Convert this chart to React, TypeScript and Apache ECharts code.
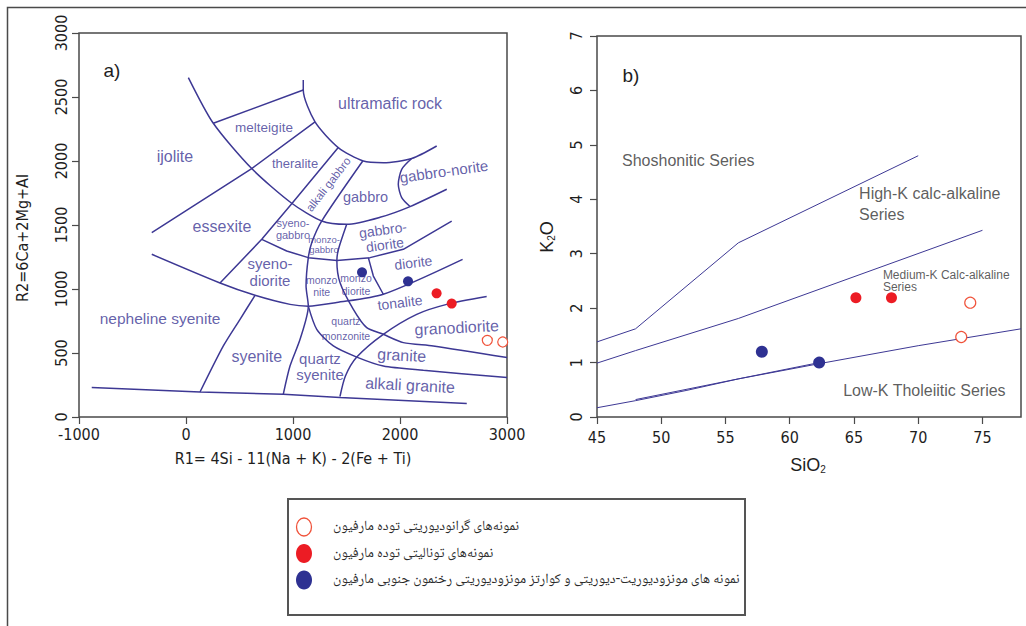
import React, { useEffect, useRef } from "react";
import * as echarts from "echarts";

// ---------- R1–R2 classification (De la Roche) ----------
// Field boundaries, as [R1, R2] vertices
const ijoliteArc = [[22, 2652], [255, 2295], [614, 1941], [988, 1670], [1268, 1531], [1502, 1505], [1813, 1560], [2094, 1644], [2437, 1779]];
const ultramaficArc = [[1096, 2633], [1096, 2555], [1206, 2305], [1423, 2105], [1657, 2000], [1844, 1987], [2109, 2019], [2343, 2117]];
const melteigiteTop = [[255, 2295], [1096, 2555]];
const theraliteBase = [[-320, 1441], [614, 1941], [1206, 2305]];
const essexiteEdge = [[318, 1047], [708, 1388], [988, 1666], [1423, 2105]];
const monzoniteEdge = [[1652, 2000], [1268, 1531], [1175, 1362], [1143, 1245], [1122, 1023], [1143, 866], [1066, 607], [972, 398], [909, 177]];
const syenodioriteBase = [[-320, 1271], [318, 1047], [645, 951], [972, 880], [1143, 866], [1408, 894], [1844, 959], [2585, 1232]];
const dioriteTop = [[708, 1388], [941, 1297], [1143, 1245], [1410, 1222], [1720, 1245], [2031, 1310], [2483, 1531]];
const monzodioriteArc = [[1502, 1505], [1425, 1310], [1410, 1222], [1439, 1050], [1564, 841], [1689, 698], [1844, 646], [2031, 581], [2311, 555], [3000, 464]];
const granodioriteBase = [[2810, 941], [2437, 880], [2156, 802], [1844, 646], [1596, 468], [1490, 320], [1439, 160]];
const alkaliGraniteTop = [[1143, 866], [1222, 685], [1377, 555], [1596, 468], [1844, 398], [2218, 365], [3000, 308]];
const baseLine = [[-881, 230], [131, 195], [909, 177], [1439, 152], [2624, 105]];
const syeniteEdge = [[645, 951], [505, 763], [349, 555], [131, 195]];
const dioriteEdge = [[1704, 1245], [1751, 1101], [1844, 959]];
const gabbroNoriteEdge = [[2109, 2019], [2016, 1935], [1984, 1818], [2016, 1714], [2094, 1644]];

const curvedBoundaries = [ijoliteArc, ultramaficArc, monzodioriteArc, gabbroNoriteEdge, syeniteEdge, syenodioriteBase, granodioriteBase, alkaliGraniteTop, monzoniteEdge];
const straightBoundaries = [melteigiteTop, theraliteBase, essexiteEdge, dioriteTop, baseLine, dioriteEdge];

const fieldNames = [
  { name: "ultramafic rock", r1: 1907, r2: 2451 },
  { name: "melteigite", r1: 729, r2: 2263 },
  { name: "ijolite", r1: -103, r2: 2037 },
  { name: "theralite", r1: 1019, r2: 1982 },
  { name: "alkali gabbro", r1: 1330, r2: 1818 },
  { name: "gabbro", r1: 1678, r2: 1716 },
  { name: "gabbro-norite", r1: 2411, r2: 1920 },
  { name: "essexite", r1: 336, r2: 1490 },
  { name: "syeno-\ngabbro", r1: 1000, r2: 1466 },
  { name: "monzo-\ngabbro", r1: 1290, r2: 1349 },
  { name: "gabbro-\ndiorite", r1: 1850, r2: 1404 },
  { name: "syeno-\ndiorite", r1: 785, r2: 1134 },
  { name: "diorite", r1: 2124, r2: 1206 },
  { name: "monzo\nnite", r1: 1268, r2: 1021 },
  { name: "monzo\ndiorite", r1: 1589, r2: 1037 },
  { name: "tonalite", r1: 2000, r2: 894 },
  { name: "nepheline syenite", r1: -243, r2: 771 },
  { name: "quartz\nmonzonite", r1: 1495, r2: 689 },
  { name: "granodiorite", r1: 2530, r2: 698 },
  { name: "syenite", r1: 661, r2: 472 },
  { name: "quartz\nsyenite", r1: 1252, r2: 396 },
  { name: "granite", r1: 2016, r2: 482 },
  { name: "alkali granite", r1: 2094, r2: 248 },
];

const granodioriteR = [[2816, 599], [2960, 586]];
const tonaliteR = [[2342, 966], [2483, 886]];
const monzodioriteR = [[1645, 1130], [2075, 1060]];

// ---------- K2O vs SiO2 ----------
const siO2Ticks = [45, 50, 55, 60, 65, 70, 75];
const shoshoniticLine = [[45, 1.38], [48, 1.62], [56, 3.2], [70, 4.8]];
const highKLine = [[45, 0.99], [48, 1.22], [56, 1.81], [75, 3.43]];
const lowKLine = [[45, 0.17], [48, 0.3], [52, 0.49], [56, 0.7], [62.3, 0.98], [70, 1.31], [78, 1.62]];
const lowKLineInner = [[48, 0.32], [62.3, 1.0]];

const seriesNames = [
  { name: "Shoshonitic Series", sio2: 46.95, k2o: 4.72 },
  { name: "High-K calc-alkaline\nSeries", sio2: 65.4, k2o: 3.92 },
  { name: "Medium-K Calc-alkaline\nSeries", sio2: 67.25, k2o: 2.5 },
  { name: "Low-K Tholeiitic Series", sio2: 64.16, k2o: 0.48 },
];

const granodioriteK = [[74.05, 2.1], [73.35, 1.47]];
const tonaliteK = [[65.15, 2.19], [67.92, 2.19]];
const monzodioriteK = [[57.83, 1.2], [62.29, 1.0]];

const legendTexts = [
  "نمونه‌های گرانودیوریتی توده مارفیون",
  "نمونه‌های تونالیتی توده مارفیون",
  "نمونه های مونزودیوریت-دیوریتی و کوارتز مونزودیوریتی رخنمون جنوبی مارفیون",
];

const BOUND = "#3d3894";
const FRAME = "#4a4a4a";
const INK = "#1e1e1e";
const RED = "#ec1c24";
const OPEN_RED = "#f0533b";
const BLUE = "#2e3192";
const SANS = "'Liberation Sans', Arial, sans-serif";
const NARROW = "'Liberation Sans Narrow', 'Arial Narrow', 'DejaVu Sans Condensed', 'Liberation Sans', sans-serif";
const PERSIAN = "'Noto Naskh Arabic', 'Noto Sans Arabic', 'DejaVu Sans', sans-serif";

const fieldStyle: Record<string, { size: number; rotate?: number; lh?: number }> = {
  "ultramafic rock": { size: 16 },
  melteigite: { size: 13.5 },
  ijolite: { size: 16 },
  theralite: { size: 13 },
  "alkali gabbro": { size: 11.5, rotate: 52 },
  gabbro: { size: 14.5 },
  "gabbro-norite": { size: 15, rotate: 8 },
  essexite: { size: 16 },
  "syeno-\ngabbro": { size: 11, lh: 12 },
  "monzo-\ngabbro": { size: 9.5, lh: 10 },
  "gabbro-\ndiorite": { size: 14, rotate: 8, lh: 15 },
  "syeno-\ndiorite": { size: 15, lh: 17 },
  diorite: { size: 14, rotate: 7 },
  "monzo\nnite": { size: 10.5, lh: 12 },
  "monzo\ndiorite": { size: 10.5, lh: 13 },
  tonalite: { size: 14, rotate: 7 },
  "nepheline syenite": { size: 15.5 },
  "quartz\nmonzonite": { size: 10.5, lh: 15 },
  granodiorite: { size: 16, rotate: 3 },
  syenite: { size: 16 },
  "quartz\nsyenite": { size: 15, lh: 16 },
  granite: { size: 16, rotate: -3 },
  "alkali granite": { size: 16, rotate: -3 },
};

function boundary(points: number[][], idx: number, smooth: number | boolean, width: number) {
  return {
    type: "line",
    xAxisIndex: idx,
    yAxisIndex: idx,
    data: points,
    symbol: "none",
    smooth,
    silent: true,
    z: 2,
    lineStyle: { color: BOUND, width },
  };
}

function samples(points: number[][], idx: number, size: number, fill: string, stroke: string) {
  return {
    type: "scatter",
    xAxisIndex: idx,
    yAxisIndex: idx,
    data: points,
    symbol: "circle",
    symbolSize: size,
    silent: true,
    z: 6,
    itemStyle: { color: fill, borderColor: stroke, borderWidth: fill === "#ffffff" ? 1.2 : 0, opacity: 1 },
  };
}

function axisCommon() {
  return {
    axisLine: { show: false, onZero: false },
    axisTick: { show: true, inside: false, length: 7, lineStyle: { color: FRAME, width: 1.2 } },
    splitLine: { show: false },
    axisLabel: { color: INK, fontSize: 16, fontFamily: NARROW, formatter: (v: number) => String(v) },
  };
}

export default function App() {
  const ref = useRef<HTMLDivElement>(null);

  useEffect(() => {
    if (!ref.current) return;
    const chart = echarts.init(ref.current, null, { renderer: "svg" });

    const fieldLabelSeries = {
      type: "scatter",
      xAxisIndex: 0,
      yAxisIndex: 0,
      symbolSize: 1,
      silent: true,
      z: 5,
      itemStyle: { color: "rgba(0,0,0,0)" },
      data: fieldNames.map((f) => {
        const st = fieldStyle[f.name];
        return {
          name: f.name,
          value: [f.r1, f.r2],
          label: {
            fontSize: st.size,
            rotate: st.rotate || 0,
            lineHeight: st.lh || st.size + 2,
          },
        };
      }),
      label: {
        show: true,
        position: "inside",
        formatter: "{b}",
        color: BOUND,
        fontFamily: SANS,
        align: "center",
        verticalAlign: "middle",
      },
    };

    const seriesLabelSeries = {
      type: "scatter",
      xAxisIndex: 1,
      yAxisIndex: 1,
      symbolSize: 1,
      silent: true,
      z: 5,
      itemStyle: { color: "rgba(0,0,0,0)" },
      data: seriesNames.map((s) => {
        const small = s.name.startsWith("Medium");
        return {
          name: s.name,
          value: [s.sio2, s.k2o],
          label: { fontSize: small ? 12 : 16, lineHeight: small ? 12 : 21 },
        };
      }),
      label: {
        show: true,
        position: "inside",
        formatter: "{b}",
        color: "#333333",
        fontFamily: SANS,
        align: "left",
        verticalAlign: "middle",
      },
    };

    const legendRows = legendTexts.map((t, i) => {
      const cy = 527 + i * 26.5;
      const marker =
        i === 0
          ? { type: "ellipse", shape: { cx: 304, cy, rx: 7.5, ry: 9 }, style: { fill: "#fff", stroke: OPEN_RED, lineWidth: 1.3 } }
          : { type: "ellipse", shape: { cx: 304, cy, rx: 8, ry: 9.5 }, style: { fill: i === 1 ? RED : BLUE } };
      return [
        marker,
        {
          type: "text",
          x: 333,
          y: cy,
          style: { text: t, fill: "#2a2a2a", fontSize: 14, fontFamily: PERSIAN, align: "left", verticalAlign: "middle" },
        },
      ];
    });

    chart.setOption({
      animation: false,
      backgroundColor: "#ffffff",
      grid: [
        { left: 79, top: 33, width: 428, height: 384, show: true, borderColor: FRAME, borderWidth: 1.5, backgroundColor: "transparent" },
        { left: 597, top: 36, width: 424, height: 381, show: true, borderColor: FRAME, borderWidth: 1.5, backgroundColor: "transparent" },
      ],
      xAxis: [
        {
          gridIndex: 0, type: "value", min: -1000, max: 3000, interval: 1000,
          ...axisCommon(),
          axisLabel: { ...axisCommon().axisLabel, margin: 9 },
        },
        {
          gridIndex: 1, type: "value", min: 45, max: 78, interval: 5,
          ...axisCommon(),
          axisTick: { ...axisCommon().axisTick, customValues: siO2Ticks },
          axisLabel: { ...axisCommon().axisLabel, margin: 12, customValues: siO2Ticks },
        },
      ],
      yAxis: [
        {
          gridIndex: 0, type: "value", min: 0, max: 3000, interval: 500,
          ...axisCommon(),
          axisLabel: { ...axisCommon().axisLabel, rotate: 90, margin: 10 },
        },
        {
          gridIndex: 1, type: "value", min: 0, max: 7, interval: 1,
          ...axisCommon(),
          axisLabel: { ...axisCommon().axisLabel, rotate: 90, margin: 13 },
        },
      ],
      series: [
        ...curvedBoundaries.map((b) => boundary(b, 0, 0.25, 1.5)),
        ...straightBoundaries.map((b) => boundary(b, 0, false, 1.5)),
        fieldLabelSeries,
        samples(granodioriteR, 0, 10, "#ffffff", OPEN_RED),
        samples(tonaliteR, 0, 10, RED, RED),
        samples(monzodioriteR, 0, 10, BLUE, BLUE),
        boundary(shoshoniticLine, 1, false, 1),
        boundary(highKLine, 1, false, 1),
        boundary(lowKLine, 1, false, 1),
        boundary(lowKLineInner, 1, false, 1),
        seriesLabelSeries,
        samples(granodioriteK, 1, 11, "#ffffff", OPEN_RED),
        samples(tonaliteK, 1, 11, RED, RED),
        samples(monzodioriteK, 1, 12, BLUE, BLUE),
      ],
      graphic: [
        { type: "rect", silent: true, z: -10, shape: { x: 7.5, y: 7.5, width: 1100, height: 700 }, style: { fill: "none", stroke: FRAME, lineWidth: 1.5 } },
        { type: "text", x: 112, y: 70, style: { text: "a)", fill: INK, fontSize: 19, fontFamily: SANS, align: "center", verticalAlign: "middle" } },
        { type: "text", x: 631, y: 75, style: { text: "b)", fill: INK, fontSize: 19, fontFamily: SANS, align: "center", verticalAlign: "middle" } },
        { type: "text", x: 22, y: 238, rotation: Math.PI / 2, style: { text: "R2=6Ca+2Mg+Al", fill: INK, fontSize: 16, fontFamily: NARROW, align: "center", verticalAlign: "middle" } },
        { type: "text", x: 293, y: 458, style: { text: "R1= 4Si - 11(Na + K) - 2(Fe + Ti)", fill: INK, fontSize: 16, fontFamily: NARROW, align: "center", verticalAlign: "middle" } },
        {
          type: "text", x: 547, y: 237, rotation: Math.PI / 2,
          style: { text: "K{s|2}O", fill: INK, fontSize: 18, fontFamily: SANS, align: "center", verticalAlign: "middle", rich: { s: { fontSize: 10, fontFamily: SANS, fill: INK, padding: [8, 0, 0, 0] } } },
        },
        {
          type: "text", x: 808, y: 465,
          style: { text: "SiO{s|2}", fill: INK, fontSize: 18, fontFamily: SANS, align: "center", verticalAlign: "middle", rich: { s: { fontSize: 10, fontFamily: SANS, fill: INK, padding: [8, 0, 0, 0] } } },
        },
        { type: "rect", shape: { x: 288, y: 499, width: 457, height: 116 }, style: { fill: "#fff", stroke: "#555", lineWidth: 2 } },
        ...legendRows.flat(),
      ],
    });

    return () => chart.dispose();
  }, []);

  return <div ref={ref} style={{ position: "fixed", left: 0, top: 0, width: 1026, height: 626, background: "#fff" }} />;
}
